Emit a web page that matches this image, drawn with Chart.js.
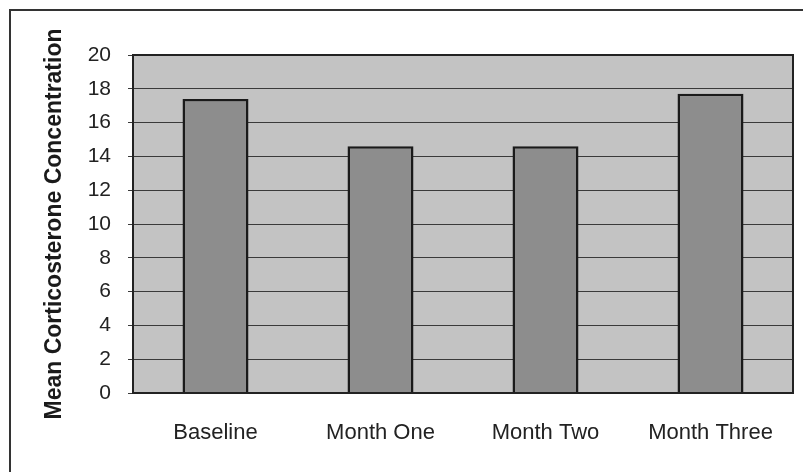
<!DOCTYPE html>
<html lang="en">
<head>
  <meta charset="UTF-8">
  <title>Mean Corticosterone Concentration</title>
  <script src="https://cdn.jsdelivr.net/npm/chart.js"></script>
  <style>
    * { box-sizing: border-box; margin:0; padding:0; }
    body { background:#fff; width:803px; height:472px; overflow:hidden; }
    #wrap { position:relative; width:803px; height:472px; }
  </style>
</head>
<body>
<div id="wrap"><canvas id="grafica"></canvas></div>

<script>
const categorias = ['Baseline', 'Month One', 'Month Two', 'Month Three'];
const valores = [17.4, 14.6, 14.6, 17.7];
const tituloY = 'Mean Corticosterone Concentration';

// marco exterior + fondo gris del area del grafico + borde del area
const marco = {
  id: 'marco',
  beforeDraw(chart) {
    const ctx = chart.ctx, a = chart.chartArea;
    ctx.save();
    ctx.fillStyle = '#c3c3c3';
    ctx.fillRect(a.left, a.top, a.right - a.left, a.bottom - a.top);
    ctx.strokeStyle = '#333';
    ctx.lineWidth = 2;
    ctx.beginPath();
    ctx.moveTo(10, 480); ctx.lineTo(10, 10); ctx.lineTo(810, 10);
    ctx.stroke();
    ctx.restore();
  },
  afterDraw(chart) {
    const ctx = chart.ctx, a = chart.chartArea;
    ctx.save();
    ctx.strokeStyle = '#222';
    ctx.lineWidth = 2;
    ctx.strokeRect(a.left, a.top, a.right - a.left, a.bottom - a.top);
    ctx.restore();
  }
};

new Chart(document.getElementById('grafica'), {
  type: 'bar',
  data: {
    labels: categorias,
    datasets: [{
      data: valores,
      backgroundColor: '#8d8d8d',
      borderColor: '#1a1a1a',
      borderWidth: 2.5,
      barPercentage: 0.4,
      categoryPercentage: 1
    }]
  },
  options: {
    responsive: true,
    maintainAspectRatio: false,
    animation: false,
    layout: { padding: { left: 30, top: 55, right: 10, bottom: 0 } },
    plugins: { legend: { display: false }, tooltip: { enabled: false } },
    scales: {
      x: {
        grid: { display: false, drawTicks: false },
        border: { display: false },
        ticks: { color: '#222', font: { family: 'Liberation Sans', size: 22 }, padding: 27, maxRotation: 0 },
        afterFit(s) { s.height = 79; }
      },
      y: {
        min: 0, max: 20,
        grid: { color: '#3a3a3a', lineWidth: 1, tickLength: 5 },
        border: { display: false },
        ticks: { stepSize: 2, color: '#222', font: { family: 'Liberation Sans', size: 21 }, padding: 17 },
        title: {
          display: true, text: tituloY, color: '#1a1a1a',
          font: { family: 'Liberation Sans', size: 23, weight: 'bold' },
          padding: { top: 11, bottom: 0 }
        },
        afterFit(s) { s.width = 103; }
      }
    }
  },
  plugins: [marco]
});
</script>
</body>
</html>
